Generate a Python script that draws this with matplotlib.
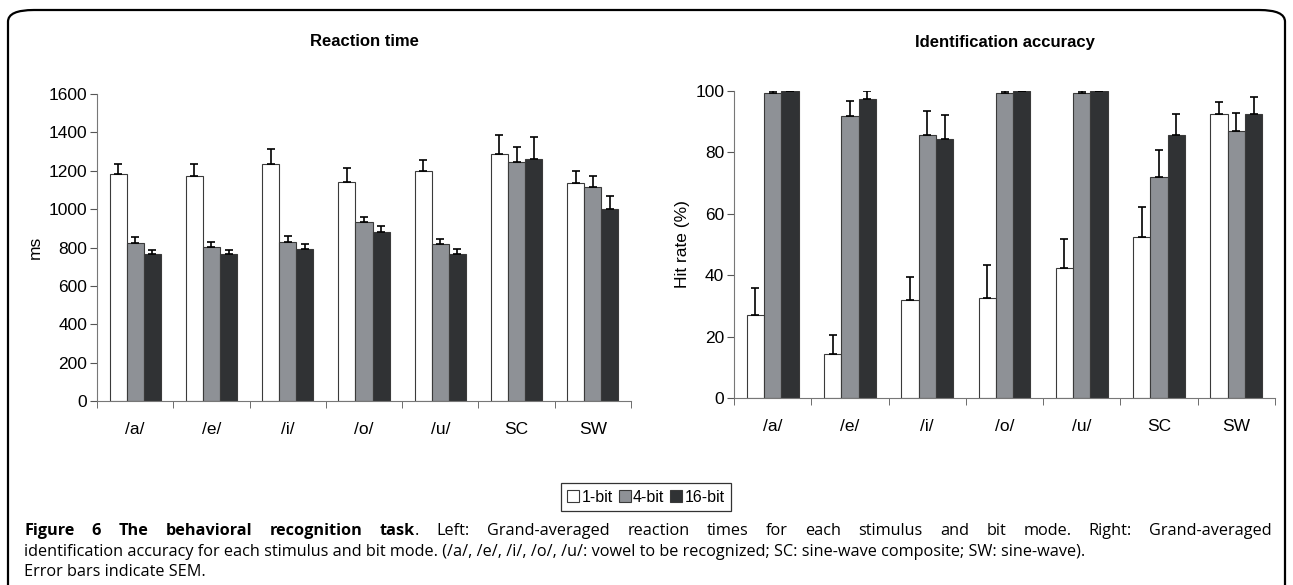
import matplotlib.pyplot as plt
from matplotlib.patches import FancyBboxPatch

plt.rcParams['font.family'] = ['Liberation Sans', 'DejaVu Sans']

categories = ['/a/', '/e/', '/i/', '/o/', '/u/', 'SC', 'SW']
modes = ['1-bit', '4-bit', '16-bit']
colors = ['white', '#8e9196', '#303234']

# reaction time (ms) and upper error bar lengths
rt_1 = [1182, 1171, 1237, 1141, 1201, 1288, 1136]
rt_4 = [822, 804, 830, 932, 818, 1244, 1115]
rt_16 = [764, 764, 794, 883, 768, 1262, 1002]
rt_err_1 = [53, 63, 74, 72, 57, 98, 61]
rt_err_4 = [35, 26, 32, 26, 28, 81, 56]
rt_err_16 = [21, 21, 26, 31, 26, 115, 64]

# identification accuracy (%)
acc_1 = [26.9, 14.3, 31.8, 32.5, 42.5, 52.4, 92.4]
acc_4 = [99.3, 91.9, 85.6, 99.3, 99.3, 71.9, 86.9]
acc_16 = [100, 97.4, 84.4, 100, 100, 85.6, 92.4]
acc_err_1 = [8.9, 6.2, 7.6, 10.8, 9.2, 9.7, 3.9]
acc_err_4 = [0.7, 4.7, 7.9, 0.7, 0.7, 8.8, 5.8]
acc_err_16 = [0, 2.6, 7.7, 0, 0, 6.8, 5.5]

fig = plt.figure(figsize=(12.93, 5.85), dpi=100)

# rounded frame around the figure
frame = FancyBboxPatch((8 / 1293, -0.2), 1277 / 1293, 1.2 - 10 / 585,
                       boxstyle='round,pad=0,rounding_size=0.02',
                       transform=fig.transFigure, fill=False,
                       edgecolor='black', linewidth=1.6, mutation_aspect=585 / 1293 * 2.2)
fig.patches.append(frame)

ax1 = fig.add_axes([97 / 1293, 1 - 401 / 585, (631 - 97) / 1293, (401 - 94) / 585])
ax2 = fig.add_axes([734 / 1293, 1 - 398 / 585, (1275 - 734) / 1293, (398 - 91) / 585])

w = 0.224
x = list(range(len(categories)))
fs = 12.5


def draw(ax, series, errs, ymax, step, ylabel):
    for k, (vals, err) in enumerate(zip(series, errs)):
        pos = [i + 0.5 + (k - 1) * w for i in x]
        ax.bar(pos, vals, width=w, color=colors[k], edgecolor='#3a3a3a',
               linewidth=0.8, label=modes[k], zorder=2)
        ax.errorbar(pos, vals, yerr=[[0] * len(vals), err], fmt='none',
                    ecolor='black', elinewidth=1.2, capsize=3, capthick=1.2, zorder=3)
    ax.set_xlim(0, len(categories))
    ax.set_ylim(0, ymax)
    ax.set_yticks(range(0, ymax + 1, step))
    ax.set_xticks([i + 0.5 for i in x])
    ax.set_xticklabels(categories)
    ax.set_xticks(range(len(categories) + 1), minor=True)
    ax.tick_params(axis='x', which='major', length=0, pad=15, labelsize=fs)
    ax.tick_params(axis='x', which='minor', length=5, direction='out', color='#555555')
    ax.tick_params(axis='y', length=5, color='#555555', labelsize=fs, pad=2)
    for s in ['top', 'right']:
        ax.spines[s].set_visible(False)
    ax.spines['left'].set_color('#777777')
    ax.spines['bottom'].set_color('#777777')
    ax.set_ylabel(ylabel, fontsize=fs, labelpad=4)


draw(ax1, [rt_1, rt_4, rt_16], [rt_err_1, rt_err_4, rt_err_16], 1600, 200, 'ms')
draw(ax2, [acc_1, acc_4, acc_16], [acc_err_1, acc_err_4, acc_err_16], 100, 20, 'Hit rate (%)')

fig.text(0.5 * (97 + 631) / 1293, 1 - 42 / 585, 'Reaction time', ha='center', va='center',
         fontsize=12, fontweight='bold')
fig.text(0.5 * (734 + 1275) / 1293, 1 - 42 / 585, 'Identification accuracy', ha='center',
         va='center', fontsize=12, fontweight='bold')

handles, labels = ax1.get_legend_handles_labels()
leg = fig.legend(handles, labels, loc='center', bbox_to_anchor=(646 / 1293, 1 - 497 / 585),
                 ncol=3, frameon=True, fancybox=False, fontsize=11.5, handlelength=0.75,
                 handleheight=0.75, handletextpad=0.15, columnspacing=0.35, borderpad=0.4,
                 borderaxespad=0)
leg.get_frame().set_edgecolor('black')
leg.get_frame().set_linewidth(0.9)

# caption; first line justified across the frame
cap_font = ['Open Sans', 'DejaVu Sans']
cfs = 11.7
bold_words = 'Figure 6 The behavioral recognition task.'.split(' ')
norm_words = ('Left: Grand-averaged reaction times for each stimulus and bit mode. '
              'Right: Grand-averaged').split(' ')
renderer = fig.canvas.get_renderer()
items = []
for i, wd in enumerate(bold_words + norm_words):
    is_bold = i < len(bold_words) and not (i == len(bold_words) - 1 and False)
    t = fig.text(0, 1 - 531 / 585, wd, family=cap_font, fontsize=cfs,
                 fontweight='bold' if is_bold else 'normal', va='center', ha='left')
    items.append(t)
# the final period of the bold phrase is regular weight
last_bold = items[len(bold_words) - 1]
last_bold.set_text('task')
dot = fig.text(0, 1 - 531 / 585, '.', family=cap_font, fontsize=cfs, va='center', ha='left')
widths = [t.get_window_extent(renderer).width for t in items]
dot_w = dot.get_window_extent(renderer).width
x_left, x_right = 24, 1272
total = sum(widths) + dot_w
gap = (x_right - x_left - total) / (len(items) - 1)
cur = x_left
for k, t in enumerate(items):
    t.set_x(cur / 1293)
    cur += widths[k]
    if k == len(bold_words) - 1:
        dot.set_x(cur / 1293)
        cur += dot_w
    cur += gap

fig.text(24 / 1293, 1 - 552 / 585,
         'identification accuracy for each stimulus and bit mode. (/a/, /e/, /i/, /o/, /u/: vowel to be recognized; SC: sine-wave composite; SW: sine-wave).',
         family=cap_font, fontsize=cfs, va='center', ha='left')
fig.text(24 / 1293, 1 - 572 / 585, 'Error bars indicate SEM.', family=cap_font,
         fontsize=cfs, va='center', ha='left')

fig.savefig('out.png', dpi=100)
